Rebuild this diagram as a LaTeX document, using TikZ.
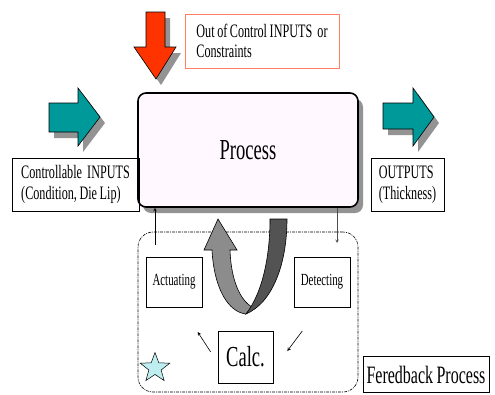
\documentclass[tikz,border=0pt]{standalone}
\usepackage{fontspec}
\setmainfont[FakeStretch=0.64, WordSpace=0.85]{Liberation Serif}
\usetikzlibrary{shapes.geometric, arrows, positioning, shadows}

\definecolor{tealarrow}{RGB}{0,153,153}
\definecolor{redarrow}{RGB}{255,51,0}
\definecolor{boxsalmon}{RGB}{255,128,96}
\definecolor{procfill}{RGB}{255,248,255}
\definecolor{starfill}{RGB}{190,238,240}

\tikzstyle{note} = [rectangle, draw=black, line width=0.6pt, align=left, inner sep=3pt]
\tikzstyle{unit} = [rectangle, draw=black, line width=0.6pt, minimum width=56, minimum height=50, text centered, font=\fontsize{17}{20}\selectfont]
\tikzstyle{blockarrow} = [draw=black, line width=0.6pt, drop shadow={shadow xshift=5pt, shadow yshift=-6pt, fill=gray!85, opacity=1}]
\tikzstyle{arrow} = [line width=0.6pt,->,>=stealth]

\begin{document}
\begin{tikzpicture}[x=1pt, y=-1pt]
\useasboundingbox (0,0) rectangle (495,394);

% Block arrows
\path [blockarrow, fill=redarrow] (146,12) -- (165,12) -- (165,47) -- (176,47) -- (156,79) -- (134,47) -- (146,47) -- cycle;
\path [blockarrow, fill=tealarrow] (49,103) -- (78,103) -- (78,88) -- (100,117) -- (78,146) -- (78,132) -- (49,132) -- cycle;
\path [blockarrow, fill=tealarrow] (383,103) -- (413,103) -- (413,88) -- (434,117) -- (413,146) -- (413,129) -- (383,129) -- cycle;

% Process
\node (process) [rectangle, rounded corners=8pt, draw=black, line width=1.6pt, fill=procfill, minimum width=220, minimum height=114, drop shadow={shadow xshift=5pt, shadow yshift=-6pt, fill=gray!85, opacity=1}, font=\fontsize{29}{32}\selectfont] at (248,150) {\raisebox{-3pt}{Process}};

% Labels
\node (outside) [note, draw=boxsalmon, minimum width=154, minimum height=54, font=\fontsize{19}{20}\selectfont] at (262,41) {Out of Control INPUTS\ \ or\\Constraints};
\node (inputs) [note, minimum width=127, minimum height=53, font=\fontsize{19}{21}\selectfont] at (75.5,184.5) {Controllable\ \ INPUTS\\(Condition, Die Lip)};
\node (outputs) [note, minimum width=73, minimum height=53, font=\fontsize{19}{21}\selectfont] at (407.5,184.5) {OUTPUTS\\(Thickness)};

% Feedback loop
\node (loop) [rectangle, rounded corners=15pt, draw=black, line width=0.6pt, dash pattern=on 3pt off 1pt on 1pt off 1pt, minimum width=220, minimum height=160] at (248,312) {};
\node (act) [unit] at (174,282) {Actuating};
\node (det) [unit] at (322,282) {Detecting};
\node (calc) [unit, minimum width=55, minimum height=52, font=\fontsize{29}{32}\selectfont] at (245.5,357) {Calc.};
\node (mark) [star, star points=5, star point ratio=2.4, draw=black, line width=0.5pt, fill=starfill, minimum size=31, inner sep=0pt] at (155,368) {};
\node (fbname) [note, minimum width=126, minimum height=36, font=\fontsize{25}{28}\selectfont] at (426,374.5) {Feredback Process};

% Turn-around arrow
\path [draw=black, line width=0.6pt, fill=gray!90] (204,250) -- (218,219) -- (237,250) -- (230,250) .. controls (231,280) and (240,300) .. (252,307) -- (246,314) .. controls (228,312) and (214,288) .. (212,250) -- cycle;
\path [draw=black, line width=0.6pt, fill=gray!65!black] (270,219) -- (287,219) .. controls (287,265) and (272,303) .. (246,314) .. controls (263,292) and (270,255) .. (270,219) -- cycle;

% Connectors
\coordinate (actup) at (155,245);
\coordinate (detdown) at (337,243);
\draw [arrow] (actup) -- (actup |- process.south);
\draw [arrow, draw=gray!60!black] (detdown |- process.south) -- (detdown);
\draw [arrow] ([shift={(-7,-5)}]calc.west) -- ([shift={(-20,-25)}]calc.west);
\draw [arrow] ([shift={(29,-26)}]calc.east) -- ([shift={(14,-6)}]calc.east);

\end{tikzpicture}
\end{document}
